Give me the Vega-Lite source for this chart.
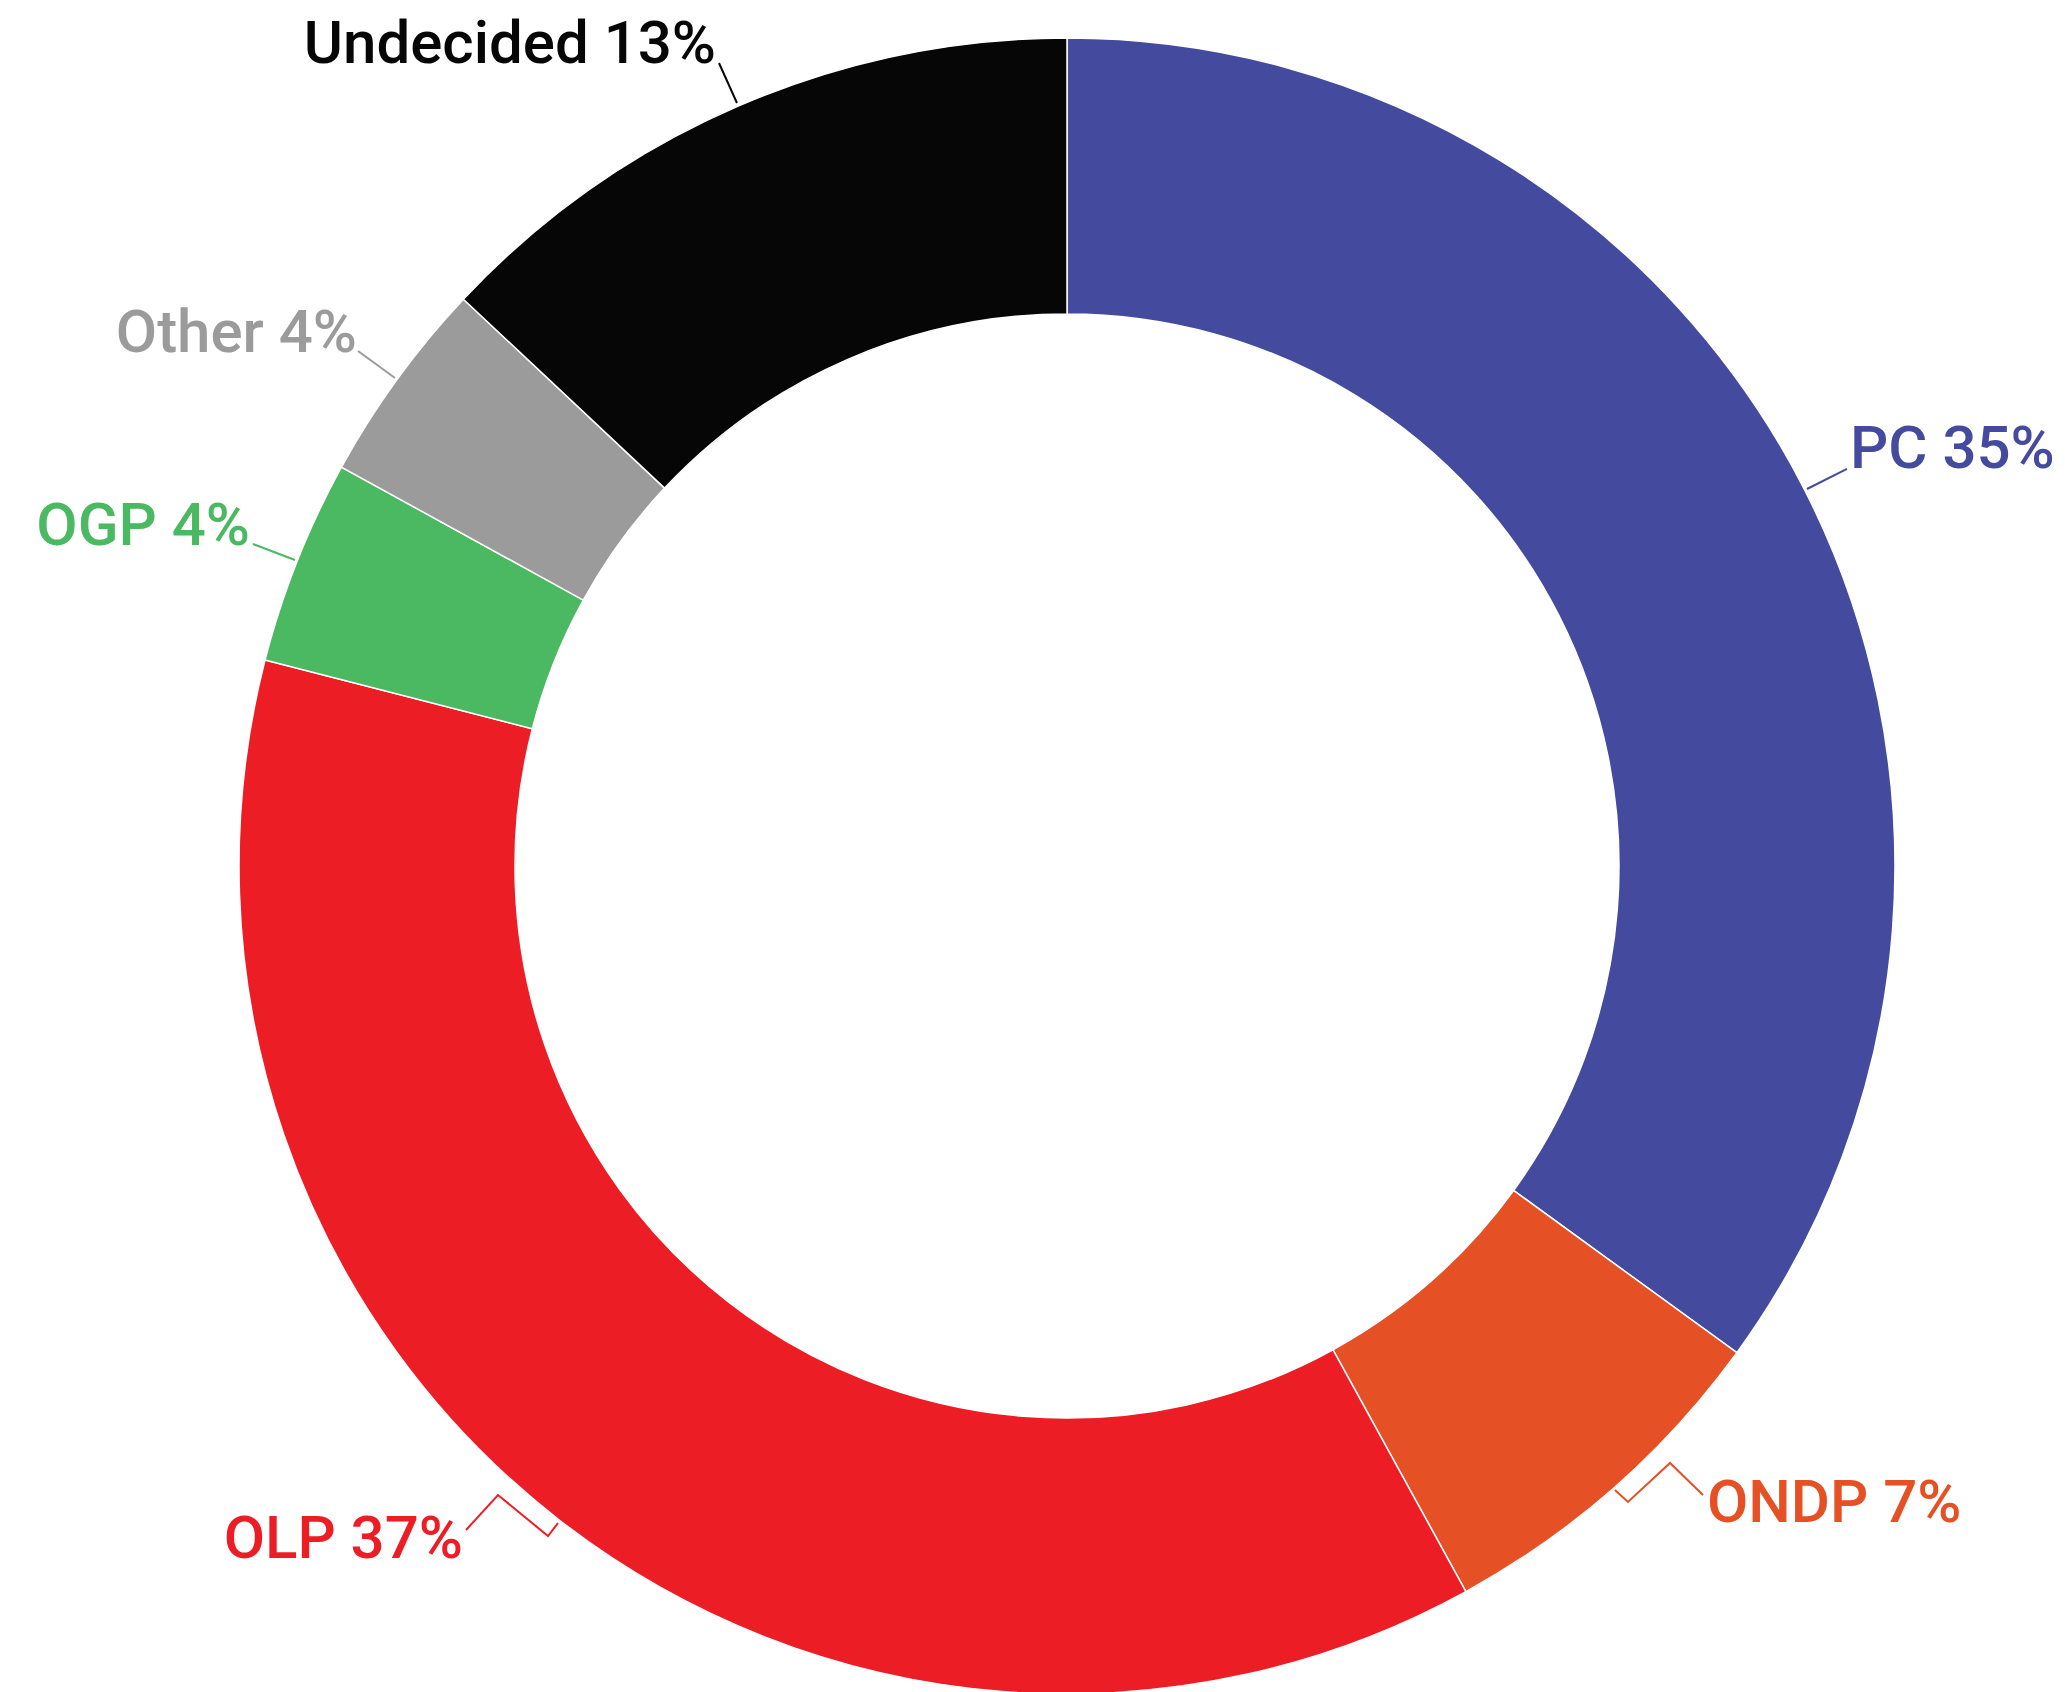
{
  "$schema": "https://vega.github.io/schema/vega-lite/v6.json",
  "autosize": {"type": "none"},
  "padding": {"left": 70, "top": 40, "right": 0, "bottom": 0},
  "width": 1994,
  "height": 1652,
  "background": "white",
  "config": {"view": {"stroke": null}},
  "datasets": {
    "shares": [
      {"party": "PC", "value": 35, "rank": 1},
      {"party": "ONDP", "value": 7, "rank": 2},
      {"party": "OLP", "value": 37, "rank": 3},
      {"party": "OGP", "value": 4, "rank": 4},
      {"party": "Other", "value": 4, "rank": 5},
      {"party": "Undecided", "value": 13, "rank": 6}
    ],
    "labels": [
      {"party": "PC", "label": "PC 35%", "side": "right", "x": 0.9457, "y": 0.4807},
      {"party": "ONDP", "label": "ONDP 7%", "side": "right", "x": 0.7729, "y": -0.7923},
      {"party": "OLP", "label": "OLP 37%", "side": "left", "x": -0.7295, "y": -0.8357},
      {"party": "OGP", "label": "OGP 4%", "side": "left", "x": -0.9867, "y": 0.3877},
      {"party": "Other", "label": "Other 4%", "side": "left", "x": -0.8575, "y": 0.6208},
      {"party": "Undecided", "label": "Undecided 13%", "side": "left", "x": -0.4239, "y": 0.9698}
    ],
    "leaders": [
      {"party": "PC", "seq": 1, "x": 0.9420, "y": 0.4795},
      {"party": "PC", "seq": 2, "x": 0.8937, "y": 0.4553},
      {"party": "ONDP", "seq": 1, "x": 0.7681, "y": -0.7597},
      {"party": "ONDP", "seq": 2, "x": 0.7283, "y": -0.7210},
      {"party": "ONDP", "seq": 3, "x": 0.6775, "y": -0.7681},
      {"party": "ONDP", "seq": 4, "x": 0.6618, "y": -0.7536},
      {"party": "OLP", "seq": 1, "x": -0.7258, "y": -0.8019},
      {"party": "OLP", "seq": 2, "x": -0.6872, "y": -0.7597},
      {"party": "OLP", "seq": 3, "x": -0.6268, "y": -0.8092},
      {"party": "OLP", "seq": 4, "x": -0.6147, "y": -0.7935},
      {"party": "OGP", "seq": 1, "x": -0.9831, "y": 0.3889},
      {"party": "OGP", "seq": 2, "x": -0.9324, "y": 0.3696},
      {"party": "Other", "seq": 1, "x": -0.8563, "y": 0.6220},
      {"party": "Other", "seq": 2, "x": -0.8116, "y": 0.5894},
      {"party": "Undecided", "seq": 1, "x": -0.4203, "y": 0.9698},
      {"party": "Undecided", "seq": 2, "x": -0.3986, "y": 0.9215}
    ]
  },
  "layer": [
    {
      "data": {"name": "shares"},
      "mark": {"type": "arc", "outerRadius": 828, "innerRadius": 552, "stroke": "white", "strokeWidth": 1.5},
      "encoding": {
        "theta": {"field": "value", "type": "quantitative", "stack": true},
        "order": {"field": "rank", "type": "quantitative", "sort": "ascending"},
        "color": {
          "field": "party", "type": "nominal", "legend": null,
          "scale": {
            "domain": ["PC", "ONDP", "OLP", "OGP", "Other", "Undecided"],
            "range": ["#444B9E", "#E55024", "#ED1D25", "#4BB862", "#9B9B9B", "#060606"]
          }
        }
      }
    },
    {
      "data": {"name": "leaders"},
      "mark": {"type": "line", "strokeWidth": 2, "interpolate": "linear"},
      "encoding": {
        "x": {"field": "x", "type": "quantitative", "axis": null, "scale": {"domain": [-1.20411, 1.20411], "nice": false, "zero": false}},
        "y": {"field": "y", "type": "quantitative", "axis": null, "scale": {"domain": [-0.99758, 0.99758], "nice": false, "zero": false}},
        "detail": {"field": "party", "type": "nominal"},
        "order": {"field": "seq", "type": "quantitative"},
        "color": {"field": "party", "type": "nominal", "legend": null}
      }
    },
    {
      "data": {"name": "labels"},
      "transform": [{"filter": "datum.side === 'left'"}],
      "mark": {"type": "text", "align": "right", "baseline": "alphabetic", "font": "Roboto", "fontWeight": 500, "fontSize": 60},
      "encoding": {
        "x": {"field": "x", "type": "quantitative"},
        "y": {"field": "y", "type": "quantitative"},
        "text": {"field": "label"},
        "color": {"field": "party", "type": "nominal", "legend": null}
      }
    },
    {
      "data": {"name": "labels"},
      "transform": [{"filter": "datum.side === 'right'"}],
      "mark": {"type": "text", "align": "left", "baseline": "alphabetic", "font": "Roboto", "fontWeight": 500, "fontSize": 60},
      "encoding": {
        "x": {"field": "x", "type": "quantitative"},
        "y": {"field": "y", "type": "quantitative"},
        "text": {"field": "label"},
        "color": {"field": "party", "type": "nominal", "legend": null}
      }
    }
  ]
}
